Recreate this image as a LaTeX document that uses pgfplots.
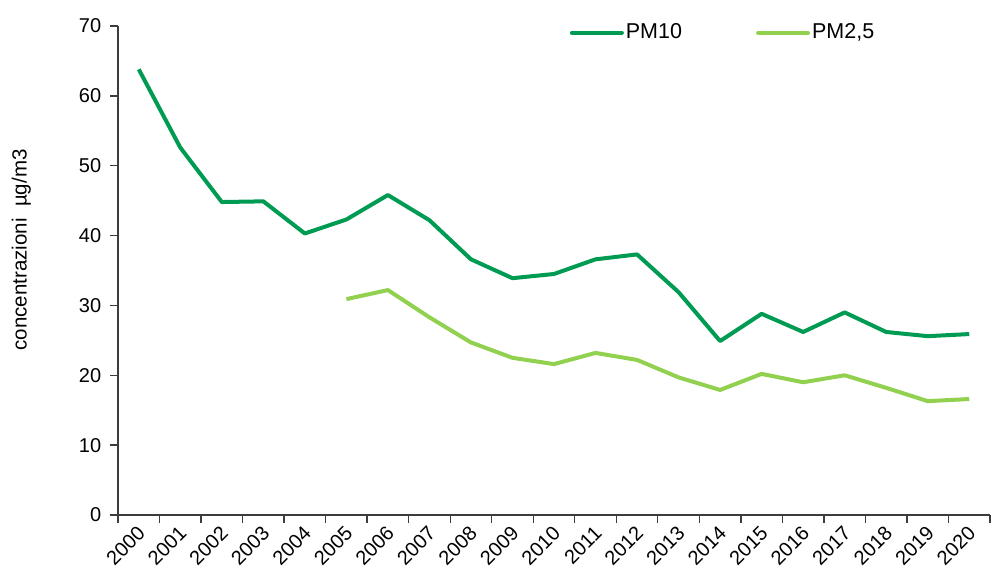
\documentclass[border=0pt]{standalone}
\usepackage{pgfplots}
\pgfplotsset{compat=1.18}
\usepackage{fontspec}
\setmainfont{Liberation Sans}
\definecolor{pmten}{RGB}{0,155,82}
\definecolor{pmtwo}{RGB}{146,208,80}
\definecolor{axgray}{RGB}{60,60,60}
\begin{document}
\fontsize{20pt}{24pt}\selectfont
\begin{tikzpicture}
\begin{axis}[
  at={(0,0)}, anchor=south west,
  scale only axis, width=872pt, height=489pt,
  xmin=-0.5, xmax=20.5, ymin=0, ymax=70,
  axis x line*=bottom, axis y line*=left,
  axis line style={axgray, line width=1.3pt},
  xtick={0,...,20},
  xticklabels={2000,2001,2002,2003,2004,2005,2006,2007,2008,2009,2010,2011,2012,2013,2014,2015,2016,2017,2018,2019,2020},
  minor xtick={-0.5,0.5,...,20.5},
  major x tick style={draw=none},
  minor x tick style={axgray, line width=1.3pt},
  minor tick length=8pt,
  ytick={0,10,...,70},
  major y tick style={axgray, line width=1.3pt},
  major tick length=8pt,
  tick align=outside,
  x tick label style={rotate=45, anchor=north east, font=\fontsize{20pt}{24pt}\selectfont, xshift=-2pt, yshift=1.5pt, inner sep=1pt},
  y tick label style={font=\fontsize{20pt}{24pt}\selectfont, xshift=-2pt},
  /pgf/number format/assume math mode=true,
  ylabel={concentrazioni\ \ µg/m3},
  ylabel style={at={(axis description cs:-0.111,0.542)}, anchor=center, font=\fontsize{20.5pt}{24pt}\selectfont},
  legend columns=2,
  legend style={draw=none, fill=none, at={(axis description cs:0.518,0.986)}, anchor=west, inner sep=0pt,
    font=\fontsize{21.5pt}{25pt}\selectfont, /tikz/every even column/.append style={column sep=72pt}},
  legend image code/.code={\draw[#1, line cap=round] (0pt,0pt) -- (50pt,0pt);},
]
\addplot[pmten, line width=4pt, line join=round] coordinates {
(0,63.8) (1,52.6) (2,44.8) (3,44.9) (4,40.3) (5,42.3) (6,45.8) (7,42.2) (8,36.6) (9,33.9) (10,34.5)
(11,36.6) (12,37.3) (13,31.9) (14,24.9) (15,28.8) (16,26.2) (17,29.0) (18,26.2) (19,25.6) (20,25.9)};
\addlegendentry{PM10}
\addplot[pmtwo, line width=4pt, line join=round] coordinates {
(5,30.9) (6,32.2) (7,28.3) (8,24.7) (9,22.5) (10,21.6) (11,23.2) (12,22.2) (13,19.7) (14,17.9)
(15,20.2) (16,19.0) (17,20.0) (18,18.2) (19,16.3) (20,16.6)};
\addlegendentry{PM2,5}
\end{axis}
\pgfresetboundingbox
\path[use as bounding box] (-118pt,-60pt) rectangle (880pt,515pt);
\end{tikzpicture}
\end{document}
